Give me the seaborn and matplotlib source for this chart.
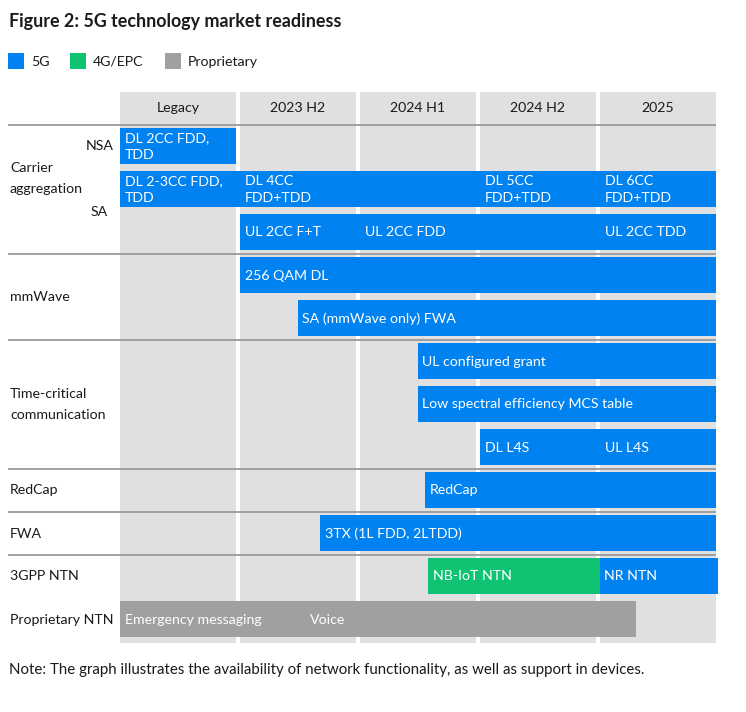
import matplotlib
matplotlib.use("Agg")
import matplotlib.pyplot as plt
import seaborn as sns
import pandas as pd

# ---------------- data ----------------
periods = ["Legacy", "2023 H2", "2024 H1", "2024 H2", "2025"]

techs = ["5G", "4G/EPC", "Proprietary"]
tech_colors = ["#0082F0", "#0FC373", "#A0A0A0"]

bar_lane = [0, 1, 2, 3, 4, 5, 6, 7, 8, 9, 10, 10, 11]
bar_start = [0.0, 0.0, 1.0, 1.0, 1.48, 2.48, 2.48, 3.0, 2.54, 1.67, 2.57, 4.0, 0.0]
bar_end = [0.967, 4.967, 4.967, 4.967, 4.967, 4.967, 4.967, 4.967, 4.967, 4.967, 4.0, 4.983, 4.3]
bar_tech = ["5G", "5G", "5G", "5G", "5G", "5G", "5G", "5G", "5G", "5G", "4G/EPC", "5G", "Proprietary"]

label_text = ["DL 2CC FDD,\nTDD", "DL 2-3CC FDD,\nTDD", "DL 4CC\nFDD+TDD", "DL 5CC\nFDD+TDD",
              "DL 6CC\nFDD+TDD", "UL 2CC F+T", "UL 2CC FDD", "UL 2CC TDD", "256 QAM DL",
              "SA (mmWave only) FWA", "UL configured grant", "Low spectral efficiency MCS table",
              "DL L4S", "UL L4S", "RedCap", "3TX (1L FDD, 2LTDD)", "NB-IoT NTN", "NR NTN",
              "Emergency messaging", "Voice"]
label_lane = [0, 1, 1, 1, 1, 2, 2, 2, 3, 4, 5, 6, 7, 7, 8, 9, 10, 10, 11, 11]
label_x = [0.04, 0.04, 1.04, 3.04, 4.04, 1.04, 2.04, 4.04, 1.04, 1.52, 2.52, 2.52,
           3.04, 4.04, 2.58, 1.71, 2.61, 4.03, 0.04, 1.58]

group_names = ["Carrier\naggregation", "mmWave", "Time-critical\ncommunication", "RedCap",
               "FWA", "3GPP NTN", "Proprietary NTN"]
group_lane = [0.74, 3.5, 6.0, 8, 9, 10, 11]
sub_names = ["NSA", "SA"]
sub_lane = [0, 1.5]
separator_after_lane = [-0.5, 2.5, 4.5, 7.5, 8.5, 9.5]

title = "Figure 2: 5G technology market readiness"
note = "Note: The graph illustrates the availability of network functionality, as well as support in devices."

bars = pd.DataFrame({"lane": bar_lane, "start": bar_start, "end": bar_end, "tech": bar_tech})

# ---------------- layout ----------------
sns.set_theme(style="white")
FONT = ["Lato", "DejaVu Sans"]
plt.rcParams["font.family"] = FONT
W, H = 746, 712
fig = plt.figure(figsize=(W / 100, H / 100), dpi=100)
ax = fig.add_axes([0, 0, 1, 1])
PX = 120.0
X0 = 120.0
ax.set_xlim(-X0 / PX, (W - X0) / PX)
ax.set_ylim(H, 0)
ax.axis("off")

def px(x):
    return (x - X0) / PX

def lane_y(l):
    return 146 + 43 * l

LH = 36
cmap = dict(zip(techs, tech_colors))
txt_color = "#1a1a1a"
fs = 10.2

# column backgrounds
for k, p in enumerate(periods):
    ax.bar(k, 643 - 92, bottom=92, width=116 / PX, align="edge", color="#E0E0E0",
           linewidth=0, zorder=1)
    ax.text(k + 58 / PX, 108.5, p, ha="center", va="center", fontsize=fs, color=txt_color)

# separators
for s in separator_after_lane:
    y = lane_y(s)
    ax.plot([px(8), px(716)], [y, y], color="#9A9A9A", lw=1.3, zorder=2,
            solid_capstyle="butt")

# bars
for _, r in bars.iterrows():
    ax.barh(lane_y(r["lane"]), r["end"] - r["start"], left=r["start"], height=LH,
            color=cmap[r["tech"]], linewidth=0, zorder=3)

for t, l, x in zip(label_text, label_lane, label_x):
    ax.text(x, lane_y(l) + 0.5, t, ha="left", va="center", fontsize=fs, color="white",
            zorder=4, linespacing=1.55)

# row labels
for g, l in zip(group_names, group_lane):
    ax.text(px(10), lane_y(l) + 0.5, g, ha="left", va="center", fontsize=fs, color=txt_color,
            linespacing=1.85)
ax.text(px(114), lane_y(sub_lane[0]), sub_names[0], ha="right", va="center", fontsize=fs,
        color=txt_color)
ax.text(px(108), lane_y(sub_lane[1]) + 1, sub_names[1], ha="right", va="center", fontsize=fs,
        color=txt_color)

# title, legend, note
ax.text(px(9), 21, title, ha="left", va="center", fontsize=12.9, fontweight="bold",
        color=txt_color)
leg_x = [8, 70, 165]
for name, c, lx in zip(techs, tech_colors, leg_x):
    ax.bar(px(lx), 16, bottom=53, width=16 / PX, align="edge", color=c, linewidth=0)
    ax.text(px(lx + 23), 61.5, name, ha="left", va="center", fontsize=fs, color=txt_color)

ax.text(px(9), 670, note, ha="left", va="center", fontsize=10.8, color=txt_color)

fig.savefig("out.png", dpi=100)
